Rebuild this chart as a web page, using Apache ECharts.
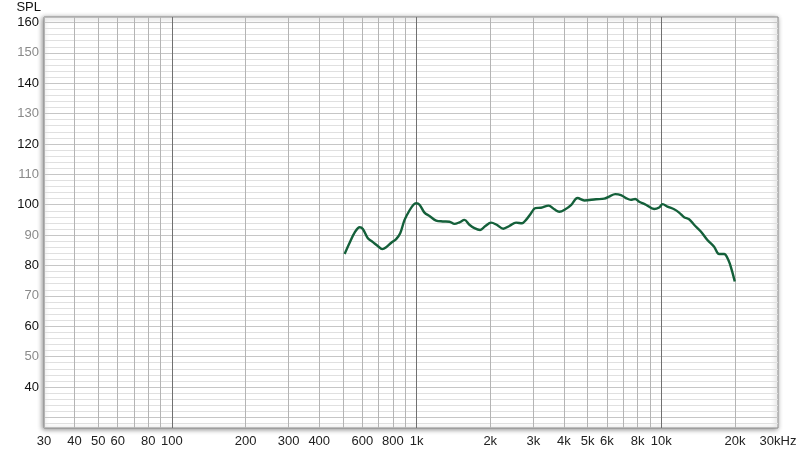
<!DOCTYPE html>
<html>
<head>
<meta charset="utf-8">
<title>SPL</title>
<script src="https://cdn.jsdelivr.net/npm/echarts@6/dist/echarts.min.js"></script>
<style>
  html, body { margin: 0; padding: 0; background: #fff; }
  #main { width: 800px; height: 453px; }
</style>
</head>
<body>
<div id="main"></div>
<script>
// measured response (Hz / dB SPL)
const freqs = [508, 532, 558, 585, 603, 632, 663, 694, 724, 751, 788, 825, 857, 893, 935, 971, 996,
  1028, 1077, 1129, 1202, 1279, 1362, 1428, 1497, 1569, 1644, 1723, 1818, 1911, 2016, 2125, 2263,
  2394, 2550, 2698, 2801, 2936, 3057, 3225, 3464, 3655, 3830, 4053, 4276, 4549, 4845, 5408, 5848,
  6129, 6483, 6841, 7171, 7514, 7825, 8124, 8651, 9354, 9804, 10132, 10600, 11287, 11830, 12397,
  12996, 13621, 14510, 15435, 16440, 17233, 18058, 18804, 19417, 19975];
const spl = [83.8, 87.4, 90.8, 92.6, 92.0, 89.0, 87.7, 86.4, 85.4, 86.0, 87.5, 88.7, 90.6, 95.0, 98.1, 100.0, 100.5,
  100.0, 97.4, 96.3, 94.8, 94.5, 94.4, 93.7, 94.2, 95.0, 93.4, 92.3, 91.7, 93.0, 94.1, 93.4, 92.1,
  93.0, 94.1, 93.9, 95.0, 97.2, 98.9, 99.0, 99.7, 98.5, 97.7, 98.5, 99.9, 102.2, 101.4, 101.8, 102.0,
  102.7, 103.5, 103.2, 102.2, 101.6, 101.9, 101.0, 100.0, 98.6, 99.1, 100.2, 99.4, 98.5, 97.4, 95.9,
  95.2, 93.4, 91.2, 88.4, 86.2, 83.8, 83.8, 81.8, 78.5, 74.7];

// axis grid / labels
const freqGrid = [30, 40, 50, 60, 70, 80, 90, 100, 200, 300, 400, 500, 600, 700, 800, 900,
  1000, 2000, 3000, 4000, 5000, 6000, 7000, 8000, 9000, 10000, 20000, 30000];
const freqLabels = [30, 40, 50, 60, 80, 100, 200, 300, 400, 600, 800, 1000, 2000, 3000, 4000,
  5000, 6000, 8000, 10000, 20000, 30000];
const splGrid = [];
for (let v = 28; v <= 160; v += 2) splGrid.push(v);
const splLabels = [40, 50, 60, 70, 80, 90, 100, 110, 120, 130, 140, 150, 160];

const fMin = 30, fMax = 30000;
const lg = Math.log10;

function freqText(v) {
  const f = Math.round(Math.pow(10, v));
  if (f >= 30000) return '30kHz';
  if (f >= 1000) return (f / 1000) + 'k';
  return String(f);
}

const myChart = echarts.init(document.getElementById('main'), null, { renderer: 'canvas' });

const vColors = ['#b4b4b4', '#b4b4b4', '#b4b4b4', '#b4b4b4', '#b4b4b4', '#b4b4b4', '#b4b4b4', '#707070', '#b4b4b4'];
const hColors = ['#e0e0e0', '#c6c6c6', '#e0e0e0', '#e0e0e0', '#e0e0e0'];

const option = {
  animation: false,
  backgroundColor: '#fff',
  textStyle: { fontFamily: 'Liberation Sans, Arial, sans-serif' },
  grid: {
    show: true,
    left: 44, right: 22, top: 17, bottom: 25,
    backgroundColor: '#fff',
    borderColor: '#8c8c8c',
    borderWidth: 1,
    shadowColor: 'rgba(0,0,0,0.45)',
    shadowBlur: 5,
    shadowOffsetX: -1,
    shadowOffsetY: 1
  },
  xAxis: {
    type: 'value',
    min: lg(fMin),
    max: lg(fMax),
    axisLine: { show: false },
    axisTick: { show: false, customValues: freqGrid.map(lg) },
    axisLabel: {
      customValues: freqLabels.map(lg),
      formatter: freqText,
      color: '#222',
      fontSize: 13,
      margin: 7
    },
    splitLine: { show: true, lineStyle: { color: vColors, width: 1 } }
  },
  yAxis: {
    type: 'value',
    min: 26.5,
    max: 161.8,
    name: 'SPL',
    nameLocation: 'end',
    nameGap: 3,
    nameTextStyle: { color: '#111', fontSize: 13, align: 'right', padding: [0, 3, 0, 0] },
    axisLine: { show: false },
    axisTick: { show: false, customValues: splGrid },
    axisLabel: {
      customValues: splLabels,
      fontSize: 13,
      margin: 5,
      color: function (val) {
        return (Math.round(Number(val)) / 10) % 2 === 0 ? '#111' : '#8a8a8a';
      }
    },
    splitLine: { show: true, lineStyle: { color: hColors, width: 1 } }
  },
  series: [{
    type: 'line',
    data: freqs.map((f, i) => [lg(f), spl[i]]),
    smooth: 0.35,
    showSymbol: false,
    lineStyle: { color: '#14603a', width: 2.4 }
  }]
};

myChart.setOption(option);
</script>
</body>
</html>
